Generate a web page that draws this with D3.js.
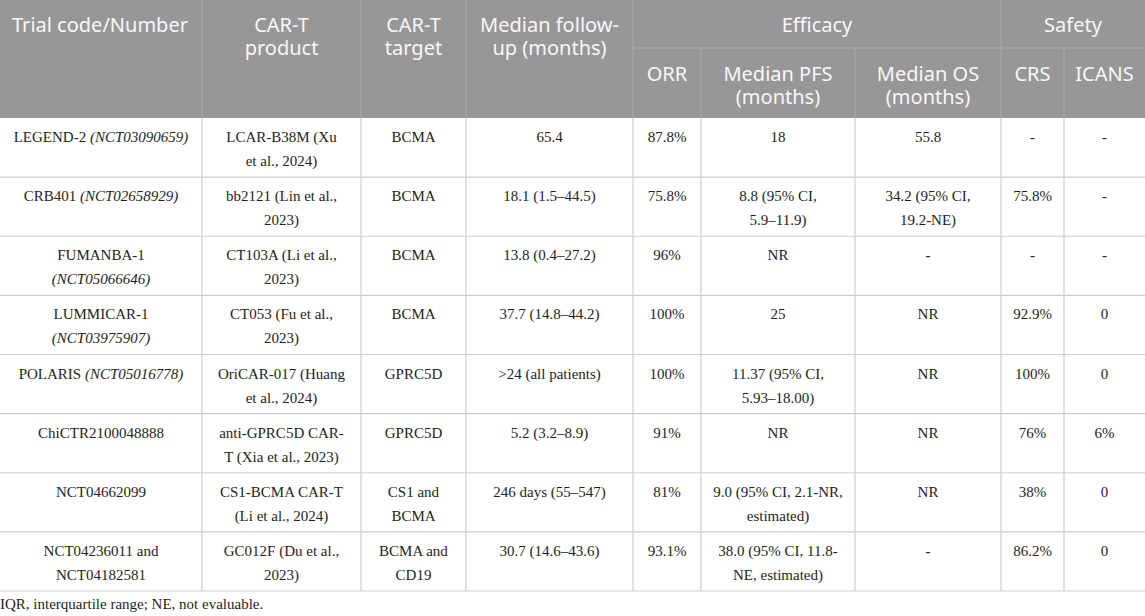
<!DOCTYPE html>
<html>
<head>
<meta charset="utf-8">
<script src="https://cdn.jsdelivr.net/npm/d3@7"></script>
<style>
  html, body { margin: 0; padding: 0; background: #fff; }
  svg { display: block; }
</style>
</head>
<body>
<svg id="chart" width="1145" height="616"></svg>
<script>
// ---------------- DATA ----------------
// Column keys and header labels (lines)
const columns = ["trial", "product", "target", "followup", "orr", "pfs", "os", "crs", "icans"];
const headerLabels = [
  ["Trial code/Number"],
  ["CAR-T", "product"],
  ["CAR-T", "target"],
  ["Median follow-", "up (months)"],
  ["ORR"],
  ["Median PFS", "(months)"],
  ["Median OS", "(months)"],
  ["CRS"],
  ["ICANS"]
];
const groupLabels = [
  { label: "Efficacy", from: "orr", to: "os" },
  { label: "Safety", from: "crs", to: "icans" }
];
// Text marked _like this_ is italic. "|" separates lines.
const trials = [
  "LEGEND-2 _(NCT03090659)_",
  "CRB401 _(NCT02658929)_",
  "FUMANBA-1|_(NCT05066646)_",
  "LUMMICAR-1|_(NCT03975907)_",
  "POLARIS _(NCT05016778)_",
  "ChiCTR2100048888",
  "NCT04662099",
  "NCT04236011 and|NCT04182581"
];
const products = [
  "LCAR-B38M (Xu|et al., 2024)",
  "bb2121 (Lin et al.,|2023)",
  "CT103A (Li et al.,|2023)",
  "CT053 (Fu et al.,|2023)",
  "OriCAR-017 (Huang|et al., 2024)",
  "anti-GPRC5D CAR-|T (Xia et al., 2023)",
  "CS1-BCMA CAR-T|(Li et al., 2024)",
  "GC012F (Du et al.,|2023)"
];
const targets = ["BCMA", "BCMA", "BCMA", "BCMA", "GPRC5D", "GPRC5D", "CS1 and|BCMA", "BCMA and|CD19"];
const followups = ["65.4", "18.1 (1.5–44.5)", "13.8 (0.4–27.2)", "37.7 (14.8–44.2)", ">24 (all patients)", "5.2 (3.2–8.9)", "246 days (55–547)", "30.7 (14.6–43.6)"];
const orrValues = ["87.8%", "75.8%", "96%", "100%", "100%", "91%", "81%", "93.1%"];
const pfsValues = ["18", "8.8 (95% CI,|5.9–11.9)", "NR", "25", "11.37 (95% CI,|5.93–18.00)", "NR", "9.0 (95% CI, 2.1-NR,|estimated)", "38.0 (95% CI, 11.8-|NE, estimated)"];
const osValues = ["55.8", "34.2 (95% CI,|19.2-NE)", "-", "NR", "NR", "NR", "NR", "-"];
const crsValues = ["-", "75.8%", "-", "92.9%", "100%", "76%", "38%", "86.2%"];
const icansValues = ["-", "-", "-", "0", "0", "6%", "0", "0"];
const footnote = "IQR, interquartile range; NE, not evaluable.";

// ---------------- LAYOUT ----------------
const W = 1145;
const colEdges = [0, 202, 361, 466, 633, 701, 855, 1001, 1064, 1145];
const headerTop = 0, headerSplit = 48, headerBottom = 118, tableBottom = 591;
const headerFill = "#979797";
const headerLine = "#ababab";
const bodyLine = "#cdcdcd";

const rows = d3.range(trials.length).map(i => ({
  trial: trials[i], product: products[i], target: targets[i], followup: followups[i],
  orr: orrValues[i], pfs: pfsValues[i], os: osValues[i], crs: crsValues[i], icans: icansValues[i]
}));

const xLeft = d3.scaleOrdinal().domain(columns).range(colEdges.slice(0, -1));
const xRight = d3.scaleOrdinal().domain(columns).range(colEdges.slice(1));
const xMid = c => (xLeft(c) + xRight(c)) / 2;
const y = d3.scaleBand().domain(d3.range(rows.length)).range([headerBottom, tableBottom]).padding(0);

const svg = d3.select("#chart");

// header background
svg.append("rect").attr("x", 0).attr("y", headerTop).attr("width", W).attr("height", headerBottom - headerTop).attr("fill", headerFill);

// header lines
const groupedCols = new Set(["orr", "pfs", "os", "crs", "icans"]);
// vertical lines between columns in header
columns.slice(1).forEach(c => {
  const inner = groupedCols.has(c) && c !== "orr" && c !== "crs";
  svg.append("line")
    .attr("x1", xLeft(c)).attr("x2", xLeft(c))
    .attr("y1", inner ? headerSplit : headerTop).attr("y2", headerBottom)
    .attr("stroke", headerLine).attr("stroke-width", 1);
});
// horizontal split under group labels
svg.append("line").attr("x1", xLeft("orr")).attr("x2", W).attr("y1", headerSplit).attr("y2", headerSplit)
  .attr("stroke", headerLine).attr("stroke-width", 1);

const headerFont = "'Noto Sans', 'Open Sans', sans-serif";
const bodyFont = "'Liberation Serif', 'DejaVu Serif', serif";

// header labels
columns.forEach((c, i) => {
  const grouped = groupedCols.has(c);
  const top = grouped ? 73 : 24;
  const t = svg.append("text")
    .attr("font-family", headerFont).attr("font-size", 20).attr("fill", "#f7f7f7")
    .attr("text-anchor", c === "trial" ? "start" : "middle")
    .attr("dominant-baseline", "central");
  headerLabels[i].forEach((ln, k) => {
    t.append("tspan").attr("x", c === "trial" ? 12 : xMid(c)).attr("y", top + k * 23).text(ln);
  });
});
groupLabels.forEach(g => {
  svg.append("text")
    .attr("font-family", headerFont).attr("font-size", 20).attr("fill", "#f7f7f7")
    .attr("text-anchor", "middle").attr("dominant-baseline", "central")
    .attr("x", (xLeft(g.from) + xRight(g.to)) / 2).attr("y", 24).text(g.label);
});

// body grid
rows.forEach((r, i) => {
  svg.append("line").attr("x1", 0).attr("x2", W)
    .attr("y1", y(i) + y.bandwidth()).attr("y2", y(i) + y.bandwidth())
    .attr("stroke", bodyLine).attr("stroke-width", 1.2);
});
columns.slice(1).forEach(c => {
  svg.append("line").attr("x1", xLeft(c)).attr("x2", xLeft(c))
    .attr("y1", headerBottom).attr("y2", tableBottom)
    .attr("stroke", bodyLine).attr("stroke-width", 1.2);
});

// body cells
function addCell(x, yTop, str) {
  const t = svg.append("text")
    .attr("font-family", bodyFont).attr("font-size", 15).attr("fill", "#231f20")
    .attr("text-anchor", "middle").attr("dominant-baseline", "central");
  str.split("|").forEach((ln, k) => {
    const tl = t.append("tspan").attr("x", x).attr("y", yTop + 19 + k * 24);
    ln.split("_").forEach((seg, s) => {
      if (seg === "") return;
      tl.append("tspan").attr("font-style", s % 2 === 1 ? "italic" : "normal").text(seg);
    });
  });
}
rows.forEach((r, i) => {
  columns.forEach(c => addCell(xMid(c), y(i), r[c]));
});

// footnote
svg.append("text")
  .attr("font-family", bodyFont).attr("font-size", 15).attr("fill", "#231f20")
  .attr("dominant-baseline", "central")
  .attr("x", 0).attr("y", 604).text(footnote);
</script>
</body>
</html>
